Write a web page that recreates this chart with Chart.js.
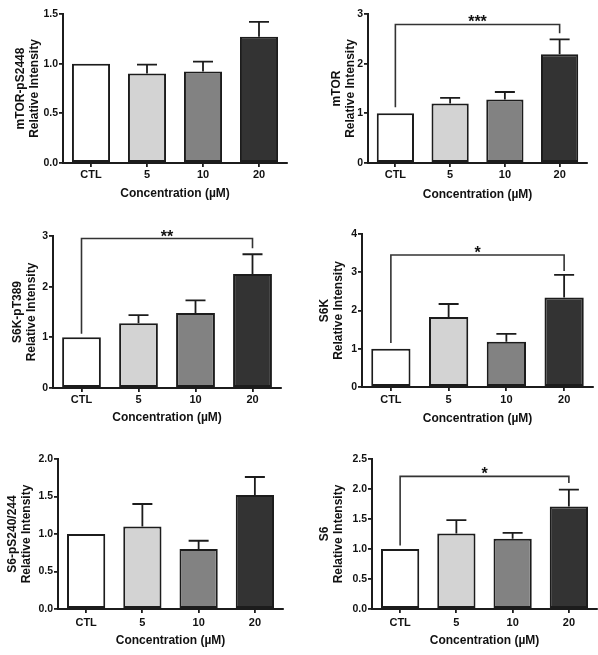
<!DOCTYPE html>
<html><head><meta charset="utf-8">
<script src="https://cdn.jsdelivr.net/npm/chart.js@4.4.1/dist/chart.umd.min.js"></script>
<style>
html,body{margin:0;padding:0;background:#fff;width:598px;height:655px;overflow:hidden;position:relative}
canvas{position:absolute}
</style></head><body>
<canvas id="c1"></canvas><canvas id="c2"></canvas><canvas id="c3"></canvas>
<canvas id="c4"></canvas><canvas id="c5"></canvas><canvas id="c6"></canvas>
<script>
// ---------- data ----------
const categories = ['CTL', '5', '10', '20'];
const xAxisTitle = 'Concentration (µM)';
const yAxisSubtitle = 'Relative Intensity';

const mtorPS2448Mean  = [1.00, 0.90, 0.92, 1.27];
const mtorPS2448Sem   = [0, 0.09, 0.10, 0.15];
const mtorPS2448Ticks = [0, 0.5, 1.0, 1.5];

const mtorMean    = [1.00, 1.20, 1.28, 2.19];
const mtorSem     = [0, 0.11, 0.15, 0.30];
const mtorTicks   = [0, 1, 2, 3];
const mtorBracket = [2.79, 1.12, 2.61];   // level, CTL end, 20 end
const mtorStars   = '***';

const s6kPT389Mean    = [1.00, 1.28, 1.48, 2.25];
const s6kPT389Sem     = [0, 0.16, 0.25, 0.39];
const s6kPT389Ticks   = [0, 1, 2, 3];
const s6kPT389Bracket = [2.95, 1.07, 2.76];
const s6kPT389Stars   = '**';

const s6kMean    = [1.00, 1.83, 1.18, 2.34];
const s6kSem     = [0, 0.34, 0.21, 0.59];
const s6kTicks   = [0, 1, 2, 3, 4];
const s6kBracket = [3.45, 1.15, 3.03];
const s6kStars   = '*';

const s6PS240Mean  = [1.00, 1.10, 0.80, 1.52];
const s6PS240Sem   = [0, 0.30, 0.11, 0.24];
const s6PS240Ticks = [0, 0.5, 1.0, 1.5, 2.0];

const s6Mean    = [1.00, 1.26, 1.17, 1.71];
const s6Sem     = [0, 0.22, 0.10, 0.28];
const s6Ticks   = [0, 0.5, 1.0, 1.5, 2.0, 2.5];
const s6Bracket = [2.21, 1.06, 2.10];
const s6Stars   = '*';

// ---------- style ----------
const FONT = "'Liberation Sans', Arial, Helvetica, sans-serif";
const barColors = ['#ffffff', '#d3d3d3', '#828282', '#333333'];
const INK = '#1c1c1c';

function makePanel(p) {
  const cv = document.getElementById(p.id);
  const [cx, cy, cw, ch] = p.canvas;
  cv.width = cw; cv.height = ch;
  cv.style.left = cx + 'px'; cv.style.top = cy + 'px';
  cv.style.width = cw + 'px'; cv.style.height = ch + 'px';
  const [aL, aT, aR, aB] = p.area;
  const yAxisW = aL - cx;
  const xAxisH = cy + ch - aB;
  const padTop = aT - cy;
  const padRight = cx + cw - aR;
  const yTitleLH = 14;
  const yTitlePad = p.yTitleX - cx - yTitleLH / 2;
  const xTickPad = p.xTickY - aB - 4 - 11 * 1.2 / 2;
  const xTitleLH = 14;
  const xTitlePadBottom = (cy + ch) - p.xTitleY - xTitleLH / 2;

  const overlay = {
    id: 'overlay' + p.id,
    afterDatasetsDraw(chart) {
      const ctx = chart.ctx;
      const ys = chart.scales.y, xs = chart.scales.x;
      const meta = chart.getDatasetMeta(0);
      ctx.save();
      ctx.strokeStyle = INK;
      ctx.lineWidth = 1.8;
      meta.data.forEach((bar, i) => {
        const sem = p.sem[i];
        if (!sem) return;
        const top = ys.getPixelForValue(p.mean[i] + sem);
        ctx.beginPath();
        ctx.moveTo(bar.x, bar.y);
        ctx.lineTo(bar.x, top);
        ctx.moveTo(bar.x - 10, top);
        ctx.lineTo(bar.x + 10, top);
        ctx.stroke();
      });
      if (p.bracket) {
        const xl = xs.getPixelForValue(0), xr = xs.getPixelForValue(3);
        const yb = ys.getPixelForValue(p.bracket[0]);
        const y1 = ys.getPixelForValue(p.bracket[1]);
        const y2 = ys.getPixelForValue(p.bracket[2]);
        ctx.strokeStyle = '#333';
        ctx.lineWidth = 1.6;
        ctx.beginPath();
        ctx.moveTo(xl, y1); ctx.lineTo(xl, yb); ctx.lineTo(xr, yb); ctx.lineTo(xr, y2);
        ctx.stroke();
        ctx.fillStyle = '#111';
        ctx.font = 'bold 16px ' + FONT;
        ctx.textAlign = 'center';
        ctx.textBaseline = 'alphabetic';
        ctx.fillText(p.stars, (xl + xr) / 2, yb + 3);
      }
      ctx.restore();
    }
  };

  const axisGrid = { drawOnChartArea: false, drawTicks: true, tickLength: 4, offset: false, color: INK, lineWidth: 1.8 };
  const axisBorder = { display: true, color: INK, width: 2 };

  new Chart(cv, {
    type: 'bar',
    data: {
      labels: categories,
      datasets: [{
        data: p.mean,
        backgroundColor: barColors,
        borderColor: INK,
        borderWidth: 2,
        borderSkipped: false,
        barPercentage: 0.68,
        categoryPercentage: 1
      }]
    },
    options: {
      responsive: false,
      animation: false,
      devicePixelRatio: 1,
      layout: { padding: { left: 0, top: padTop, right: padRight, bottom: 0 } },
      plugins: { legend: { display: false }, tooltip: { enabled: false } },
      scales: {
        x: {
          grid: axisGrid,
          border: axisBorder,
          ticks: { color: '#111', font: { family: FONT, size: 11, weight: 'bold' }, padding: xTickPad, maxRotation: 0, autoSkip: false },
          title: { display: true, text: xAxisTitle, color: '#111',
                   font: { family: FONT, size: 12, weight: 'bold', lineHeight: xTitleLH + 'px' },
                   padding: { top: 0, bottom: xTitlePadBottom } },
          afterFit: s => { s.height = xAxisH; }
        },
        y: {
          min: p.ticks[0],
          max: p.ticks[p.ticks.length - 1],
          afterBuildTicks: s => { s.ticks = p.ticks.map(v => ({ value: v })); },
          grid: axisGrid,
          border: axisBorder,
          ticks: { color: '#111', font: { family: FONT, size: 10.5, weight: 'bold' }, padding: 1,
                   callback: v => Number(v).toFixed(p.dec) },
          title: { display: true, text: [p.name, yAxisSubtitle], color: '#111',
                   font: { family: FONT, size: 12, weight: 'bold', lineHeight: yTitleLH + 'px' },
                   padding: { top: yTitlePad, bottom: 0 } },
          afterFit: s => { s.width = yAxisW; }
        }
      }
    },
    plugins: [overlay]
  });
}

makePanel({ id: 'c1', canvas: [0, 0, 300, 215], area: [63, 14, 287, 163], yTitleX: 21, xTickY: 175, xTitleY: 194,
            name: 'mTOR-pS2448', mean: mtorPS2448Mean, sem: mtorPS2448Sem, ticks: mtorPS2448Ticks, dec: 1 });
makePanel({ id: 'c2', canvas: [300, 0, 298, 215], area: [368, 14, 587, 163], yTitleX: 337, xTickY: 175, xTitleY: 195,
            name: 'mTOR', mean: mtorMean, sem: mtorSem, ticks: mtorTicks, dec: 0, bracket: mtorBracket, stars: mtorStars });
makePanel({ id: 'c3', canvas: [0, 215, 300, 215], area: [53, 236, 281, 388], yTitleX: 18, xTickY: 400, xTitleY: 418,
            name: 'S6K-pT389', mean: s6kPT389Mean, sem: s6kPT389Sem, ticks: s6kPT389Ticks, dec: 0, bracket: s6kPT389Bracket, stars: s6kPT389Stars });
makePanel({ id: 'c4', canvas: [300, 215, 298, 215], area: [362, 234, 593, 387], yTitleX: 325, xTickY: 400, xTitleY: 419,
            name: 'S6K', mean: s6kMean, sem: s6kSem, ticks: s6kTicks, dec: 0, bracket: s6kBracket, stars: s6kStars });
makePanel({ id: 'c5', canvas: [0, 430, 300, 225], area: [58, 459, 283, 609], yTitleX: 13, xTickY: 623, xTitleY: 641,
            name: 'S6-pS240/244', mean: s6PS240Mean, sem: s6PS240Sem, ticks: s6PS240Ticks, dec: 1 });
makePanel({ id: 'c6', canvas: [300, 430, 298, 225], area: [372, 459, 597, 609], yTitleX: 325, xTickY: 623, xTitleY: 641,
            name: 'S6', mean: s6Mean, sem: s6Sem, ticks: s6Ticks, dec: 1, bracket: s6Bracket, stars: s6Stars });
</script>
</body></html>
